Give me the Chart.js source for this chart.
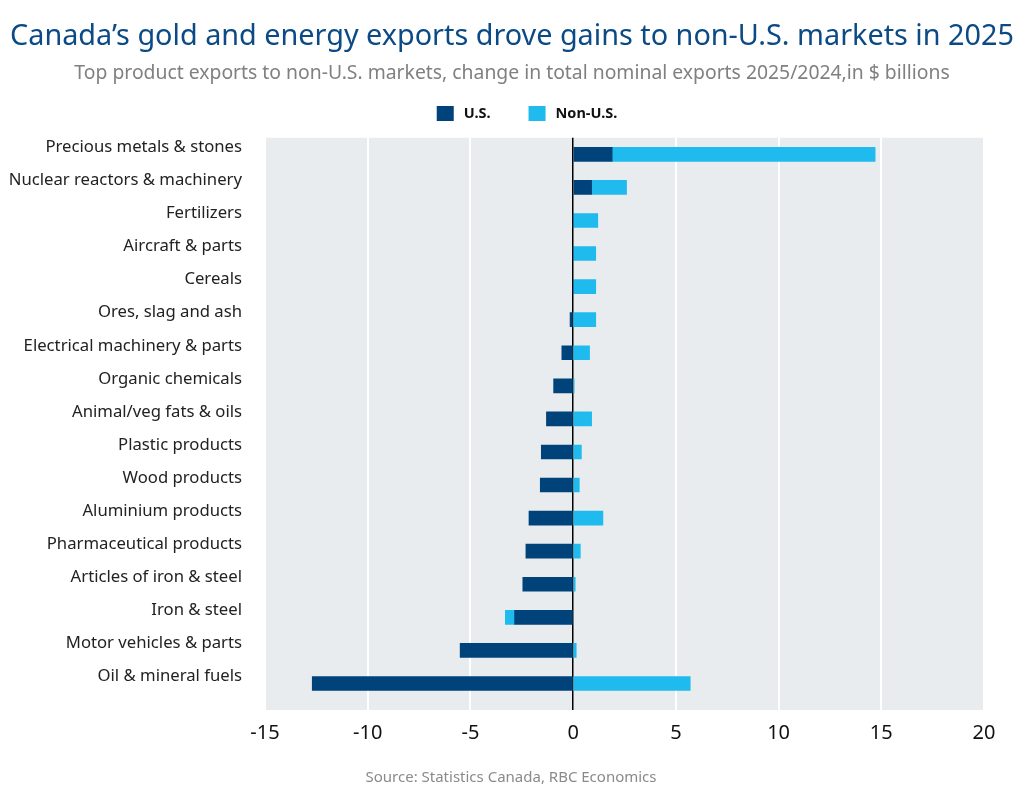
<!DOCTYPE html>
<html>
<head>
<meta charset="utf-8">
<script src="https://cdn.jsdelivr.net/npm/chart.js@4.4.1/dist/chart.umd.min.js"></script>
<style>
    html, body { margin: 0; padding: 0; background: #fff; }
    #wrap { width: 1024px; height: 792px; }
</style>
</head>
<body>
<div id="wrap"><canvas id="exportsChart" width="1024" height="792"></canvas></div>
<script>
const categories = [
    'Precious metals & stones',
    'Nuclear reactors & machinery',
    'Fertilizers',
    'Aircraft & parts',
    'Cereals',
    'Ores, slag and ash',
    'Electrical machinery & parts',
    'Organic chemicals',
    'Animal/veg fats & oils',
    'Plastic products',
    'Wood products',
    'Aluminium products',
    'Pharmaceutical products',
    'Articles of iron & steel',
    'Iron & steel',
    'Motor vehicles & parts',
    'Oil & mineral fuels'
];
const usValues = [1.9, 0.9, 0, 0, 0, -0.15, -0.55, -0.95, -1.3, -1.55, -1.6, -2.15, -2.3, -2.45, -2.85, -5.5, -12.7];
const nonUsValues = [12.8, 1.7, 1.2, 1.1, 1.1, 1.1, 0.8, 0.05, 0.9, 0.4, 0.3, 1.45, 0.35, 0.1, -0.45, 0.15, 5.7];
const xTicks = [-15, -10, -5, 0, 5, 10, 15, 20];

const FONT = "'Noto Sans', sans-serif";

// grey plot background, runs a bit under the axis like the original
const plotBackground = {
    id: 'plotBackground',
    beforeDraw(chart) {
        const { ctx, chartArea } = chart;
        ctx.save();
        ctx.fillStyle = '#ffffff';
        ctx.fillRect(0, 0, chart.width, chart.height);
        ctx.fillStyle = '#e8ecef';
        ctx.fillRect(chartArea.left, chartArea.top, chartArea.right - chartArea.left, chartArea.bottom - chartArea.top + 10);
        ctx.restore();
    }
};

// legend drawn by hand so the gap between items matches
const topLegend = {
    id: 'topLegend',
    afterDraw(chart) {
        const { ctx } = chart;
        const sets = chart.data.datasets;
        const boxW = 17, boxH = 15, gap = 10, itemGap = 38;
        ctx.save();
        ctx.font = 'bold 14.5px ' + FONT;
        ctx.textBaseline = 'middle';
        ctx.textAlign = 'left';
        let total = 0;
        sets.forEach((ds, i) => {
            total += boxW + gap + ctx.measureText(ds.label).width + (i < sets.length - 1 ? itemGap : 0);
        });
        let x = 527 - total / 2;
        const y = 113.5;
        sets.forEach(ds => {
            ctx.fillStyle = ds.backgroundColor;
            ctx.fillRect(x, y - boxH / 2, boxW, boxH);
            x += boxW + gap;
            ctx.fillStyle = '#111';
            ctx.fillText(ds.label, x, y);
            x += ctx.measureText(ds.label).width + itemGap;
        });
        ctx.restore();
    }
};

const sourceNote = {
    id: 'sourceNote',
    afterDraw(chart) {
        const { ctx } = chart;
        ctx.save();
        ctx.font = '15px ' + FONT;
        ctx.fillStyle = '#8a8a8a';
        ctx.textAlign = 'center';
        ctx.textBaseline = 'middle';
        ctx.fillText('Source: Statistics Canada, RBC Economics', 511, 778);
        ctx.restore();
    }
};

const data = {
    labels: categories,
    datasets: [
        {
            label: 'U.S.',
            data: usValues,
            backgroundColor: '#00427a',
            barThickness: 14
        },
        {
            label: 'Non-U.S.',
            data: nonUsValues,
            backgroundColor: '#1fbbee',
            barThickness: 14
        }
    ]
};

const config = {
    type: 'bar',
    data: data,
    plugins: [plotBackground, topLegend, sourceNote],
    options: {
        indexAxis: 'y',
        responsive: false,
        animation: false,
        layout: {
            padding: { left: 0, right: 0, top: 0, bottom: 36 }
        },
        plugins: {
            title: {
                display: true,
                text: 'Canada\u2019s gold and energy exports drove gains to non-U.S. markets in 2025',
                color: '#0b4a85',
                font: { family: FONT, size: 28.8, weight: 'normal' },
                padding: { top: 20, bottom: 7 }
            },
            subtitle: {
                display: true,
                text: 'Top product exports to non-U.S. markets, change in total nominal exports 2025/2024,in $ billions',
                color: '#808080',
                font: { family: FONT, size: 19.35 },
                padding: { top: 0, bottom: 53 }
            },
            legend: { display: false },
            tooltip: { enabled: false }
        },
        scales: {
            x: {
                stacked: true,
                min: -15,
                max: 20,
                afterBuildTicks(scale) {
                    scale.ticks = xTicks.map(v => ({ value: v }));
                },
                border: { display: false },
                grid: {
                    drawTicks: true,
                    tickLength: 10,
                    color: c => (c.tick && c.tick.value === 0) ? '#000000' : '#ffffff',
                    lineWidth: c => (c.tick && c.tick.value === 0) ? 1.5 : 2
                },
                ticks: {
                    color: '#111',
                    padding: 11,
                    maxRotation: 0,
                    font: { family: FONT, size: 20 }
                }
            },
            y: {
                stacked: true,
                afterFit(scale) {
                    scale.width = 265;
                },
                border: { display: false },
                grid: { display: false },
                ticks: {
                    color: '#222',
                    padding: 15,
                    labelOffset: -7,
                    autoSkip: false,
                    font: { family: FONT, size: 16.7 }
                }
            },
            // empty strip on the right so the plot stops at the same place
            rightPad: {
                type: 'linear',
                position: 'right',
                display: true,
                afterFit(scale) {
                    scale.width = 40;
                },
                border: { display: false },
                grid: { display: false },
                ticks: { display: false }
            }
        }
    }
};

const ctx = document.getElementById('exportsChart').getContext('2d');
new Chart(ctx, config);
</script>
</body>
</html>
